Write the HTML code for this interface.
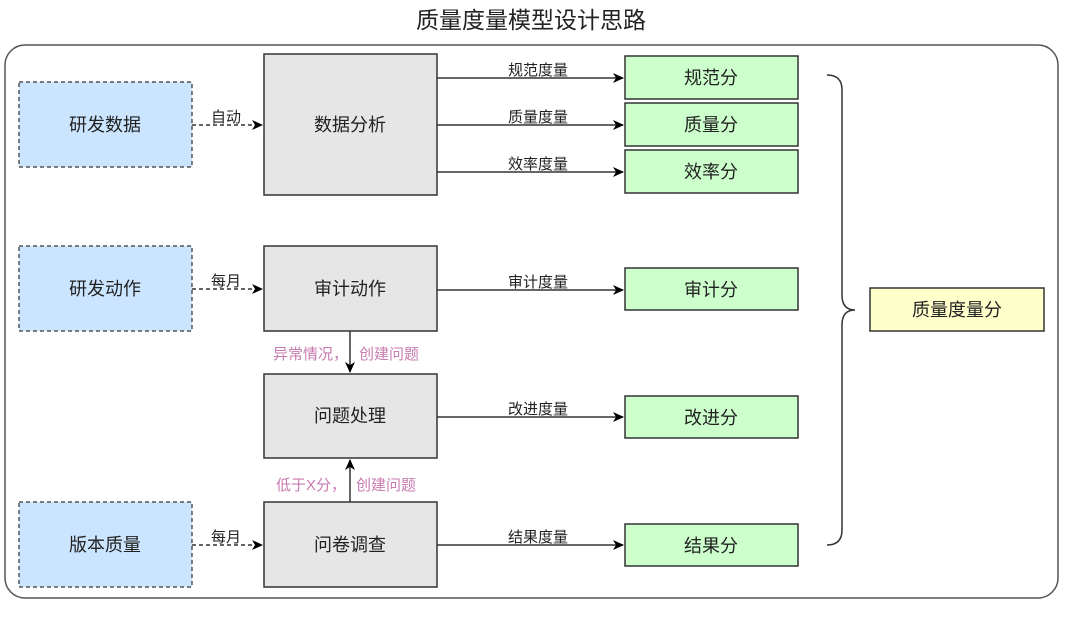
<!DOCTYPE html>
<html><head><meta charset="utf-8"><style>
body{margin:0;background:#fff;}
svg text{font-family:"Liberation Sans","Noto Sans CJK SC",sans-serif;}
</style></head><body>
<svg width="1080" height="621" viewBox="0 0 1080 621" xmlns="http://www.w3.org/2000/svg">
<defs><marker id="a" markerWidth="12" markerHeight="12" refX="10" refY="5" orient="auto" markerUnits="userSpaceOnUse"><path d="M0,0 L11,5 L0,10 L3,5 Z" fill="#000"/></marker></defs>
<text x="531" y="28" font-size="23" text-anchor="middle" fill="#222">质量度量模型设计思路</text>
<rect x="5" y="45" width="1053" height="553" rx="20" fill="none" stroke="#555" stroke-width="1.5"/>
<g fill="#cce5ff" stroke="#555" stroke-width="1.5" stroke-dasharray="4,3">
<rect x="19" y="82" width="173" height="85"/><rect x="19" y="246" width="173" height="85"/><rect x="19" y="502" width="173" height="85"/></g>
<g fill="#e6e6e6" stroke="#333" stroke-width="1.5">
<rect x="264" y="54" width="173" height="141"/><rect x="264" y="246" width="173" height="85"/><rect x="264" y="374" width="173" height="84"/><rect x="264" y="502" width="173" height="85"/></g>
<g fill="#ccffcc" stroke="#333" stroke-width="1.5">
<rect x="625" y="56" width="173" height="43"/><rect x="625" y="103" width="173" height="43"/><rect x="625" y="150" width="173" height="43"/><rect x="625" y="268" width="173" height="42"/><rect x="625" y="396" width="173" height="42"/><rect x="625" y="524" width="173" height="42"/></g>
<rect x="870" y="288" width="174" height="43" fill="#ffffcc" stroke="#333" stroke-width="1.5"/>
<g stroke="#333" stroke-width="1.5" fill="none" stroke-dasharray="4,3">
<path d="M192,125 H262" marker-end="url(#a)"/><path d="M192,289 H262" marker-end="url(#a)"/><path d="M192,545 H262" marker-end="url(#a)"/></g>
<g stroke="#333" stroke-width="1.5" fill="none">
<path d="M437,78 H623" marker-end="url(#a)"/><path d="M437,125 H623" marker-end="url(#a)"/><path d="M437,172 H623" marker-end="url(#a)"/>
<path d="M437,290 H623" marker-end="url(#a)"/><path d="M437,417 H623" marker-end="url(#a)"/><path d="M437,545 H623" marker-end="url(#a)"/>
<path d="M350,331 V372" marker-end="url(#a)"/><path d="M350,502 V460" marker-end="url(#a)"/>
<path d="M827,75 Q842,75 842,90 V295 Q842,310 855,310 Q842,310 842,325 V530 Q842,545 827,545"/></g>
<g font-size="18" text-anchor="middle" fill="#222">
<text x="105" y="131">研发数据</text><text x="105" y="295">研发动作</text><text x="105" y="551">版本质量</text>
<text x="350" y="131">数据分析</text><text x="350" y="295">审计动作</text><text x="350" y="422">问题处理</text><text x="350" y="551">问卷调查</text>
<text x="711" y="84">规范分</text><text x="711" y="131">质量分</text><text x="711" y="178">效率分</text><text x="711" y="296">审计分</text><text x="711" y="424">改进分</text><text x="711" y="552">结果分</text>
<text x="957" y="316">质量度量分</text></g>
<g font-size="15" text-anchor="middle" fill="#222">
<text x="226" y="122">自动</text><text x="226" y="286">每月</text><text x="226" y="542">每月</text>
<text x="538" y="75">规范度量</text><text x="538" y="122">质量度量</text><text x="538" y="169">效率度量</text><text x="538" y="287">审计度量</text><text x="538" y="414">改进度量</text><text x="538" y="542">结果度量</text></g>
<g font-size="15" fill="#c77bb0">
<text x="273" y="359">异常情况，</text><text x="359" y="359">创建问题</text>
<text x="276" y="490">低于X分，</text><text x="356" y="490">创建问题</text></g>
</svg>
</body></html>
